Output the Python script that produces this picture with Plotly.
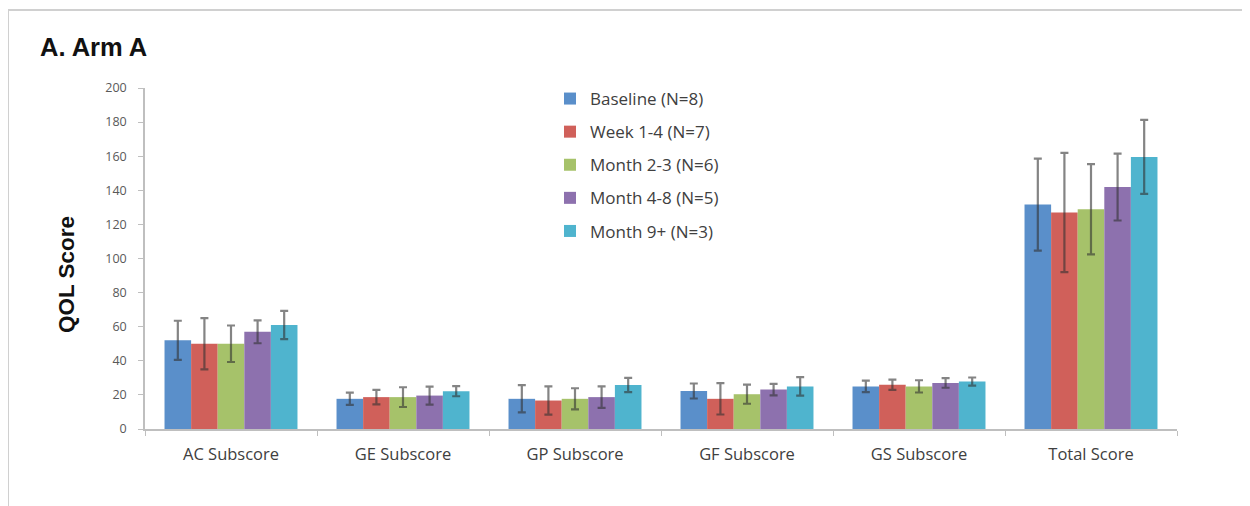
import plotly.graph_objects as go

categories = ["AC Subscore", "GE Subscore", "GP Subscore", "GF Subscore", "GS Subscore", "Total Score"]
series_names = ["Baseline (N=8)", "Week 1-4 (N=7)", "Month 2-3 (N=6)", "Month 4-8 (N=5)", "Month 9+ (N=3)"]

baseline = [52, 17.7, 17.7, 22.3, 25, 131.6]
week_1_4 = [50, 18.7, 16.7, 17.7, 26, 127]
month_2_3 = [50, 18.7, 17.7, 20.4, 25, 128.9]
month_4_8 = [57, 19.6, 18.7, 23.1, 27, 141.9]
month_9 = [61, 22.2, 25.8, 25, 27.8, 159.6]

baseline_err = [11.5, 3.6, 8, 4.4, 3.4, 27]
week_1_4_err = [15, 4.2, 8.3, 9.2, 3, 35]
month_2_3_err = [10.7, 5.8, 6.2, 5.6, 3.6, 26.5]
month_4_8_err = [6.7, 5.3, 6.3, 3.4, 2.8, 19.6]
month_9_err = [8.3, 3, 4.2, 5.4, 2.4, 21.7]

values = [baseline, week_1_4, month_2_3, month_4_8, month_9]
errors = [baseline_err, week_1_4_err, month_2_3_err, month_4_8_err, month_9_err]
colors = ["#5A8FCA", "#D0605A", "#A6C26A", "#8D71AE", "#4FB4CE"]

fig = go.Figure()
for i, (name, vals, errs, col) in enumerate(zip(series_names, values, errors, colors)):
    fig.add_trace(go.Bar(
        x=categories, y=vals, name=name, legendgroup=f"g{i}",
        marker=dict(color=col, line=dict(width=0)),
        error_y=dict(type="data", array=errs, visible=True,
                     color="rgba(50,50,50,0.6)", thickness=2.2, width=4),
    ))

W, H = 1242, 498
ml, mr, mt, mb = 137, 73, 80, 77
pw = W - ml - mr
ph = H - mt - mb

fig.update_layout(
    width=W, height=H,
    margin=dict(l=ml, r=mr, t=mt, b=mb),
    paper_bgcolor="white", plot_bgcolor="white",
    barmode="group", bargap=0.227, bargroupgap=0,
    font=dict(family="Open Sans, Lato, sans-serif", color="#404040"),
    title=dict(text="<b>A. Arm A</b>", x=32 / W, xanchor="left", y=1 - 39 / H, yanchor="middle",
               font=dict(family="Liberation Sans, Arial, sans-serif", size=25.5, color="#111111")),
    legend=dict(x=(542 - ml) / pw, xanchor="left", y=(H - mb - 73) / ph, yanchor="top",
                font=dict(size=17, color="#404040"), traceorder="grouped", tracegroupgap=8,
                bgcolor="rgba(0,0,0,0)"),
    xaxis=dict(showline=True, linecolor="#BFBFBF", linewidth=1.5, ticks="outside",
               tickson="boundaries", ticklen=5, tickcolor="#BFBFBF", ticklabelstandoff=9,
               tickfont=dict(size=16.5, color="#404040"), showgrid=False),
    yaxis=dict(range=[0, 200], dtick=20, showline=True, linecolor="#BFBFBF", linewidth=1.5,
               ticks="outside", ticklen=5, tickcolor="#BFBFBF", showgrid=False, zeroline=False,
               ticklabelstandoff=9,
               tickfont=dict(size=12.5, color="#595959")),
    annotations=[dict(text="<b>QOL Score</b>", textangle=-90, xref="paper", yref="paper",
                      x=(58 - ml) / pw, y=(H - mb - 267) / ph, xanchor="center", yanchor="middle",
                      showarrow=False,
                      font=dict(family="Liberation Sans, Arial, sans-serif", size=22.5, color="#111111"))],
    shapes=[dict(type="rect", xref="paper", yref="paper",
                 x0=(0 - ml) / pw, x1=(W + 20 - ml) / pw,
                 y0=(H - mb - (H + 20)) / ph, y1=(H - mb - 2) / ph,
                 line=dict(color="#D0D0D0", width=2), fillcolor="rgba(0,0,0,0)", layer="below")],
)

fig.write_html("out.html")
